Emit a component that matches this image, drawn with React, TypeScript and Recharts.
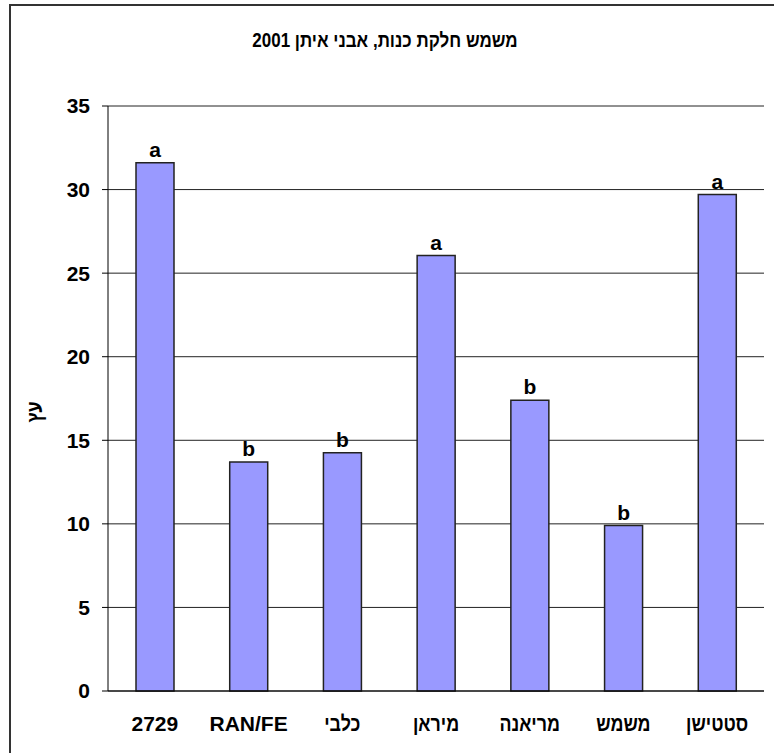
import { BarChart, Bar, XAxis, YAxis, CartesianGrid, LabelList } from "recharts";

// ─── Data ─────────────────────────────────────────────────────────────────────
const CATEGORIES = ["2729", "RAN/FE", "כלבי", "מיראן", "מריאנה", "משמש", "סטטישן"];
const VALUES = [31.6, 13.7, 14.25, 26.05, 17.4, 9.9, 29.7];
const GROUPS = ["a", "b", "b", "a", "b", "b", "a"];
const Y_TICKS = [0, 5, 10, 15, 20, 25, 30, 35];
const BOUNDARY_TICKS = [0, 1, 2, 3, 4, 5, 6, 7];

const TITLE = "משמש חלקת כנות, אבני איתן 2001";
const Y_LABEL = "עץ";

const data = CATEGORIES.map((name, i) => ({ name, value: VALUES[i], grp: GROUPS[i] }));

const FONT = "'Liberation Sans', Arial, sans-serif";
const tickStyle = { fill: "#000", fontSize: 21, fontWeight: 700, fontFamily: FONT };
const HEBREW = /[\u0590-\u05FF]/;
// Hebrew glyphs here are wider than the original's Arial Hebrew, squeeze them
const HEB_SQUEEZE = 0.85;

const CategoryTick = ({ x, y, payload }: any) => {
  const heb = HEBREW.test(payload.value);
  return (
    <g transform={`translate(${x},${y}) scale(${heb ? HEB_SQUEEZE : 1},1)`}>
      <text
        x={0}
        y={0}
        dy="0.71em"
        textAnchor="middle"
        fill="#000"
        fontFamily={FONT}
        fontWeight={700}
        fontSize={21}
      >
        {payload.value}
      </text>
    </g>
  );
};

export default function App() {
  return (
    <div style={{ position: "absolute", left: 0, top: 0, width: 774, height: 753, background: "#fff" }}>
      {/* outer chart frame */}
      <div
        style={{
          position: "absolute", left: 9, top: 4, width: 780, height: 760,
          borderLeft: "2px solid #333", borderTop: "2px solid #333",
        }}
      />
      <div
        style={{
          position: "absolute", left: 0, top: 29, width: 770, textAlign: "center",
          fontFamily: FONT, fontWeight: 700, fontSize: 20, direction: "rtl",
          transform: `scale(${HEB_SQUEEZE},1)`,
        }}
      >
        {TITLE}
      </div>
      <div
        style={{
          position: "absolute", left: 35, top: 412,
          transform: `translate(-50%, -50%) rotate(-90deg) scale(${HEB_SQUEEZE},1)`,
          fontFamily: FONT, fontWeight: 700, fontSize: 21, whiteSpace: "nowrap",
        }}
      >
        {Y_LABEL}
      </div>
      <BarChart
        width={774}
        height={753}
        data={data}
        margin={{ top: 106, right: 10, bottom: 22, left: 48 }}
        style={{ position: "absolute", left: 0, top: 0 }}
      >
        <CartesianGrid vertical={false} stroke="#222" />
        <XAxis
          xAxisId="edges"
          type="number"
          domain={[0, 7]}
          ticks={BOUNDARY_TICKS}
          height={0}
          axisLine={false}
          tickLine={{ stroke: "#000" }}
          tickSize={7}
          tickFormatter={() => ""}
        />
        <XAxis
          dataKey="name"
          height={40}
          axisLine={{ stroke: "#000" }}
          tickLine={false}
          tickMargin={19}
          tick={<CategoryTick />}
          interval={0}
        />
        <YAxis
          domain={[0, 35]}
          ticks={Y_TICKS}
          width={60}
          axisLine={{ stroke: "#000" }}
          tickLine={{ stroke: "#000" }}
          tickSize={6}
          tickMargin={12}
          tick={tickStyle}
        />
        <YAxis
          yAxisId="frame"
          orientation="right"
          width={0}
          tick={false}
          axisLine={{ stroke: "#888" }}
        />
        <Bar
          dataKey="value"
          fill="#9999FF"
          stroke="#222"
          strokeWidth={1.5}
          barSize={38}
          isAnimationActive={false}
        >
          <LabelList dataKey="grp" position="top" offset={6} style={tickStyle} />
        </Bar>
      </BarChart>
    </div>
  );
}
